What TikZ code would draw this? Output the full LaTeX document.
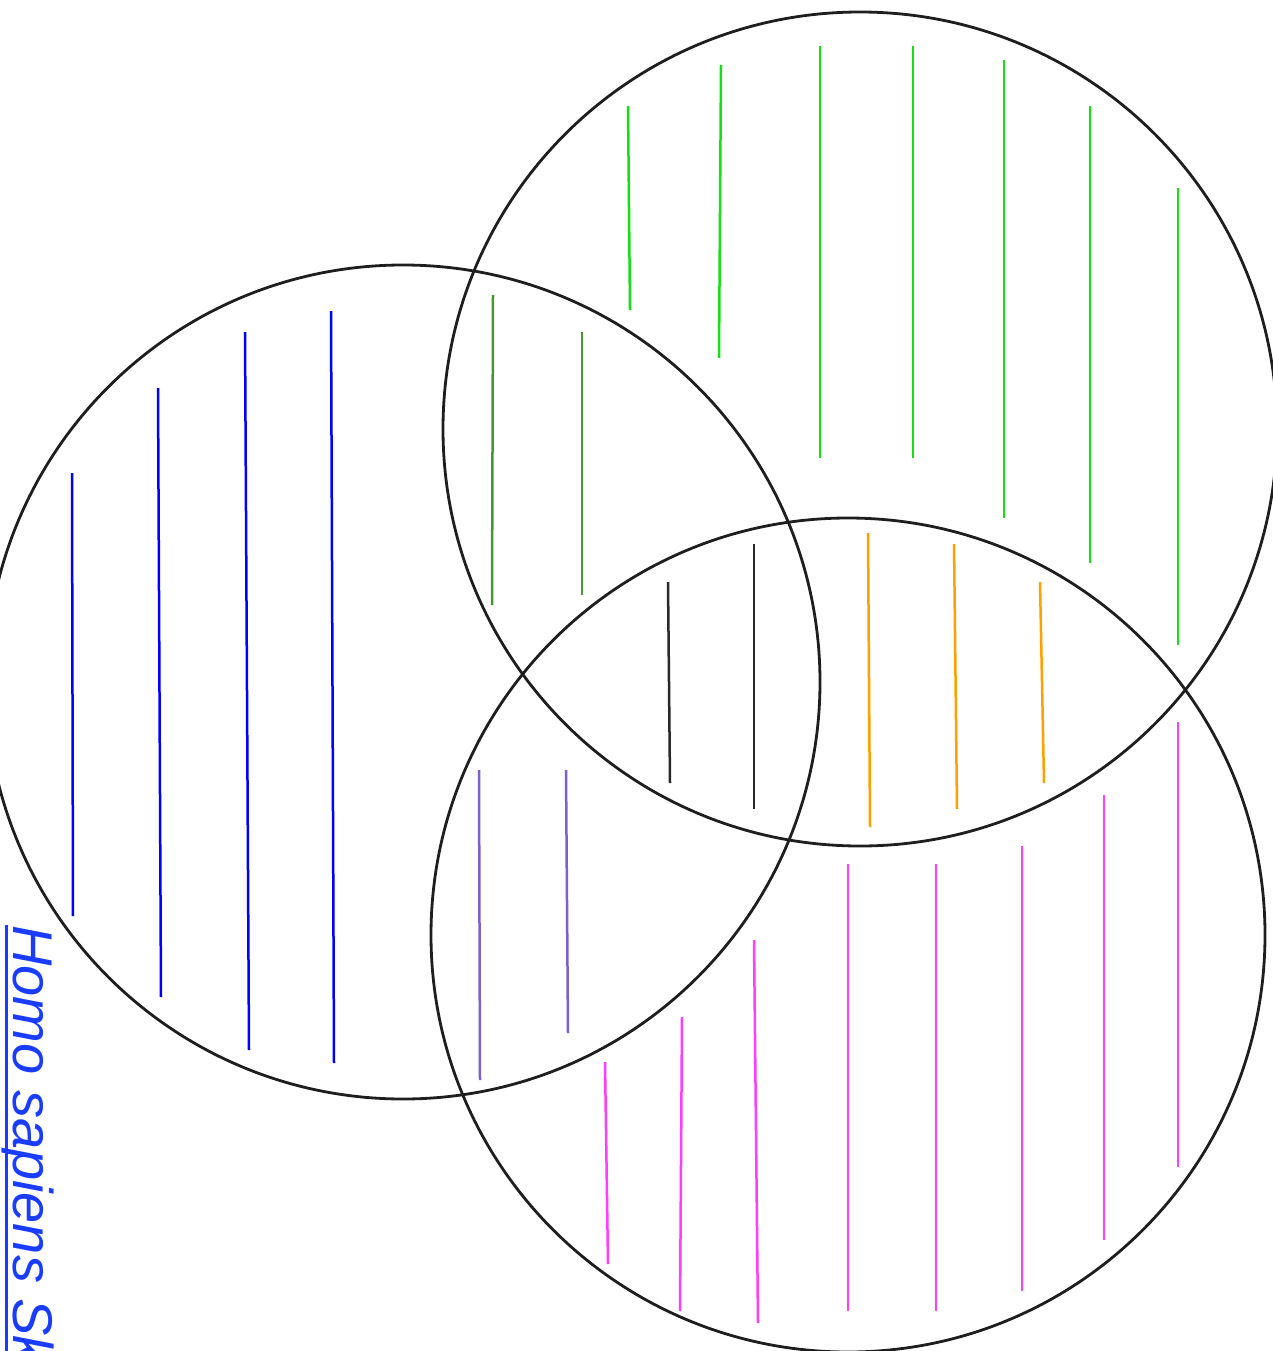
\documentclass[tikz,border=0pt]{standalone}
\usepackage{fontspec}
\setmainfont{Liberation Sans}
\definecolor{ringc}{RGB}{30,30,30}
\definecolor{blueL}{RGB}{0,0,255}
\definecolor{greenT}{RGB}{20,225,20}
\definecolor{olive}{RGB}{70,150,50}
\definecolor{blackL}{RGB}{40,40,40}
\definecolor{orangeL}{RGB}{255,160,0}
\definecolor{purpleL}{RGB}{125,95,205}
\definecolor{magL}{RGB}{255,60,255}
\definecolor{linkc}{RGB}{25,60,255}
\tikzset{
  ring/.style={draw=ringc, line width=2.8pt},
  hatch/.style={line width=2.5pt},
}
\begin{document}
\begin{tikzpicture}[x=1pt,y=-1pt]
\useasboundingbox (0,0) rectangle (1273,1351);
\clip (0,0) rectangle (1273,1351);
% circles
\draw[ring] (403,682) circle (417);
\draw[ring] (860,429) circle (417);
\draw[ring] (848,935) circle (417);
% blue (left only)
\foreach \a/\b/\c/\d in {72/473/73/916, 158/388/161/997, 245/332/249/1050, 331/311/334/1063}
  \draw[hatch, blueL] (\a,\b) -- (\c,\d);
% green (top only)
\foreach \a/\b/\c/\d in {628/106/630/310, 721/65/719/358, 820/46/820/458, 913/46/913/458, 1004/60/1004/518, 1090/106/1090/563, 1178/188/1178/645}
  \draw[hatch, greenT] (\a,\b) -- (\c,\d);
% olive (left and top)
\foreach \a/\b/\c/\d in {493/295/492/605, 582/332/582/595}
  \draw[hatch, olive] (\a,\b) -- (\c,\d);
% black (all three)
\foreach \a/\b/\c/\d in {668/582/670/783, 754/544/754/809}
  \draw[hatch, blackL] (\a,\b) -- (\c,\d);
% orange (top and bottom)
\foreach \a/\b/\c/\d in {868/533/870/827, 954/544/957/809, 1040/582/1044/783}
  \draw[hatch, orangeL] (\a,\b) -- (\c,\d);
% purple (left and bottom)
\foreach \a/\b/\c/\d in {479/770/480/1080, 566/770/568/1033}
  \draw[hatch, purpleL] (\a,\b) -- (\c,\d);
% magenta (bottom only)
\foreach \a/\b/\c/\d in {605/1062/608/1264, 682/1017/680/1311, 754/940/758/1323, 848/864/848/1311, 936/864/936/1311, 1022/846/1022/1291, 1104/795/1104/1240, 1178/722/1178/1167}
  \draw[hatch, magL] (\a,\b) -- (\c,\d);
% label
\node[rotate=-90, anchor=base west, inner sep=0pt, text=linkc, font=\fontsize{56}{60}\selectfont\itshape] (lbl) at (13,925) {Homo sapiens Sk};
\draw[linkc, line width=3pt] (6,925) -- (6,1351);
\end{tikzpicture}
\end{document}
